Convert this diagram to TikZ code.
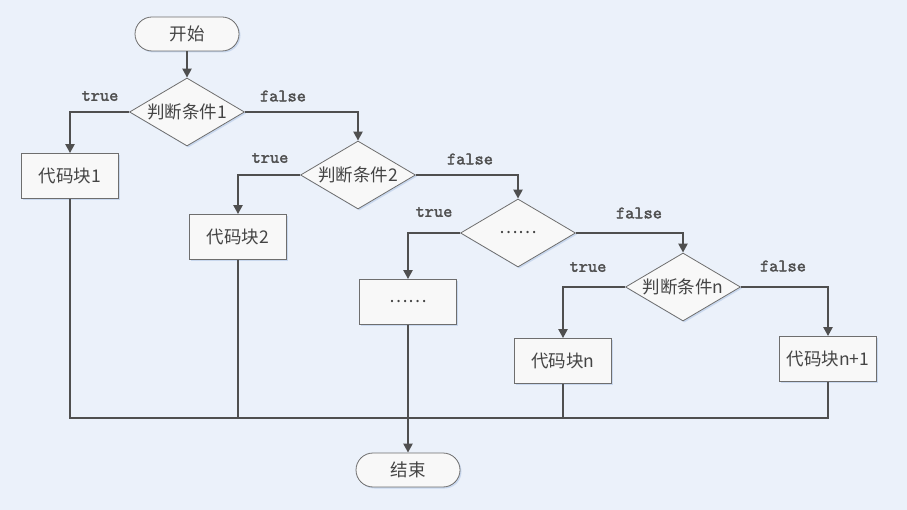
\documentclass[tikz,border=0pt]{standalone}
\usepackage{fontspec}
\usepackage{tikz}
\usetikzlibrary{shapes}
\usetikzlibrary{arrows.meta}
\usetikzlibrary{shadows}
\newfontfamily\cjkfont{Noto Sans CJK SC}
\newfontfamily\labelfont{lmmono10-regular.otf}[FakeBold=2]
\definecolor{bg_blue}{HTML}{EBF1FA}
\definecolor{node_fill}{HTML}{F8F8F8}
\definecolor{node_border}{HTML}{6E6E6E}
\definecolor{node_text}{HTML}{444444}
\definecolor{line_gray}{HTML}{4F4F4F}
\definecolor{shadow_blue}{HTML}{C9D8EE}
\tikzset{
  flow_node/.style = {align=center, inner sep=0pt, text centered,
    draw=node_border, fill=node_fill, text=node_text, line width=0.8pt,
    font=\cjkfont\fontsize{17.5}{17.5}\selectfont,
    drop shadow={shadow xshift=1.5pt, shadow yshift=-1.5pt,
      fill=shadow_blue, opacity=1}},
  term_node/.style = {flow_node, rectangle, rounded corners=17pt,
    minimum width=104pt, minimum height=34pt},% debut / fin
  cond_node/.style = {flow_node, diamond, aspect=1.7,
    minimum width=115pt, minimum height=68pt},% condition
  block_node/.style = {flow_node, rectangle,
    minimum width=97pt, minimum height=45pt},% bloc de code
  branch_label/.style = {text=line_gray,
    font=\labelfont\fontsize{17.5}{17.5}\selectfont},
  flow_line/.style = {draw=line_gray, line width=2.2pt},
  flow_arrow/.style = {flow_line, -{Triangle[length=9pt, width=9pt]}}
}
\begin{document}
\begin{tikzpicture}[x=1pt, y=-1pt]
  \fill[bg_blue] (0,0) rectangle (907,510);
  % noeuds
  \node [term_node] (start_node) at (187,34) {开始};
  \node [cond_node] (cond_1) at (187,112) {判断条件1};
  \node [cond_node] (cond_2) at (358,175) {判断条件2};
  \node [cond_node] (cond_3) at (518,233) {……};
  \node [cond_node] (cond_n) at (683,287) {判断条件n};
  \node [block_node] (block_1) at (70,176) {代码块1};
  \node [block_node] (block_2) at (238,237) {代码块2};
  \node [block_node] (block_3) at (408,302) {……};
  \node [block_node] (block_n) at (563,361) {代码块n};
  \node [block_node] (block_n1) at (828,359) {代码块n+1};
  \node [term_node] (stop_node) at (408,470) {结束};
  \coordinate (merge) at (408,418);
  % labels
  \node [branch_label] (true_1) at (100,96) {true};
  \node [branch_label] (false_1) at (283,96) {false};
  \node [branch_label] (true_2) at (270,158) {true};
  \node [branch_label] (false_2) at (470,159) {false};
  \node [branch_label] (true_3) at (434,212) {true};
  \node [branch_label] (false_3) at (639,213) {false};
  \node [branch_label] (true_n) at (588,267) {true};
  \node [branch_label] (false_n) at (783,266) {false};
  % fleches
  \draw [flow_arrow] (start_node) -- (cond_1);
  \draw [flow_arrow] (cond_1.west) -| (block_1.north);
  \draw [flow_arrow] (cond_1.east) -| (cond_2.north);
  \draw [flow_arrow] (cond_2.west) -| (block_2.north);
  \draw [flow_arrow] (cond_2.east) -| (cond_3.north);
  \draw [flow_arrow] (cond_3.west) -| (block_3.north);
  \draw [flow_arrow] (cond_3.east) -| (cond_n.north);
  \draw [flow_arrow] (cond_n.west) -| (block_n.north);
  \draw [flow_arrow] (cond_n.east) -| (block_n1.north);
  \draw [flow_line] (block_1.south) |- (merge);
  \draw [flow_line] (block_2.south) |- (merge);
  \draw [flow_line] (block_n.south) |- (merge);
  \draw [flow_line] (block_n1.south) |- (merge);
  \draw [flow_arrow] (block_3.south) -- (stop_node.north);
\end{tikzpicture}
\end{document}
